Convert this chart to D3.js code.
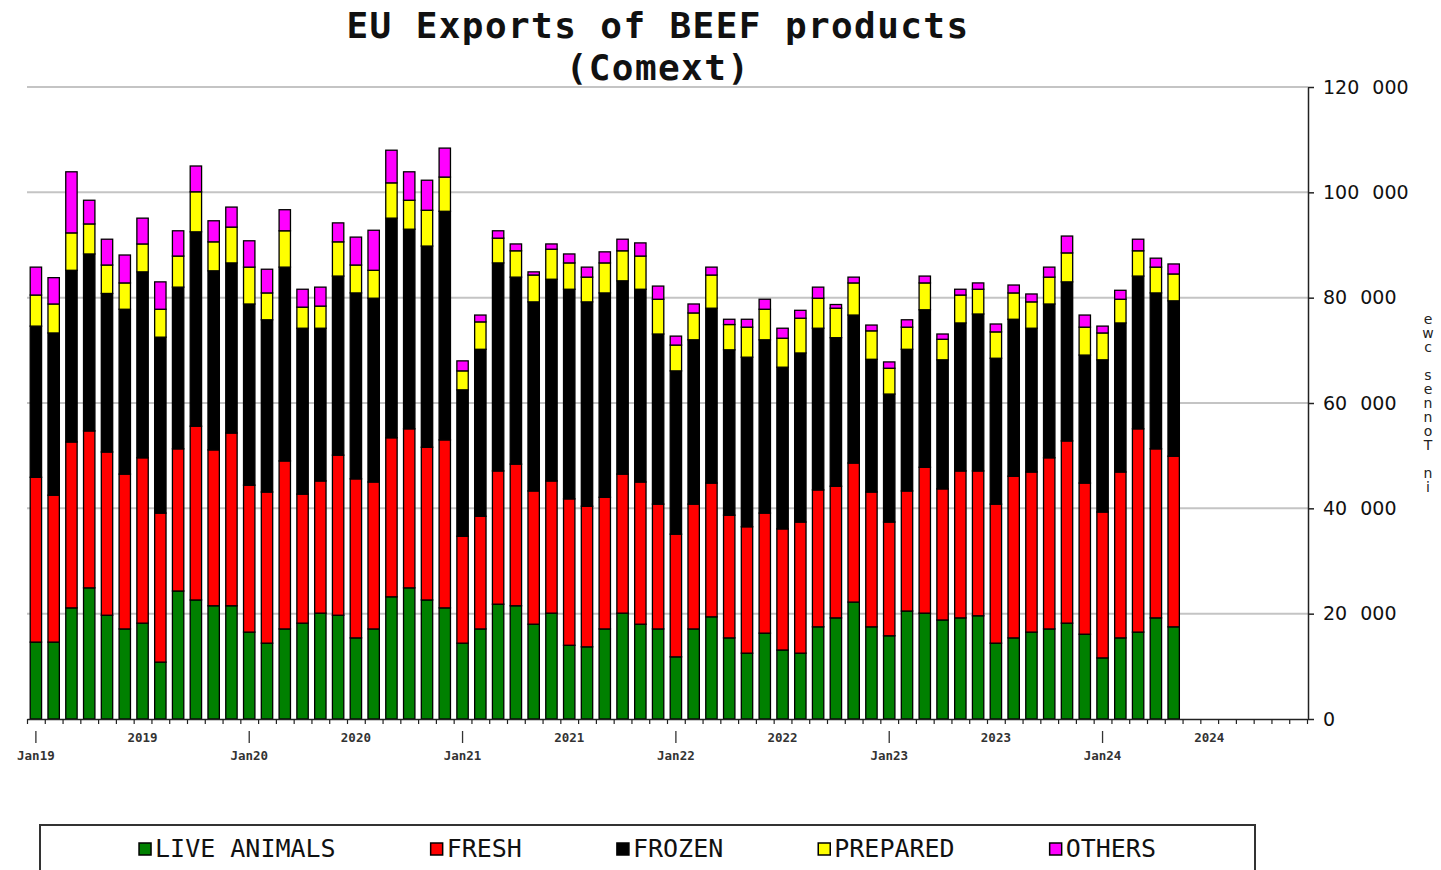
<!DOCTYPE html>
<html><head><meta charset="utf-8">
<script src="https://cdn.jsdelivr.net/npm/d3@7"></script>
<style>body{margin:0;background:#fff;} svg{display:block;}</style>
</head><body>
<svg id="chart" width="1441" height="870"></svg>
<script>
// ---------- DATA (tonnes cwe) ----------
const categories = [
 "2019-01","2019-02","2019-03","2019-04","2019-05","2019-06","2019-07","2019-08","2019-09","2019-10","2019-11","2019-12",
 "2020-01","2020-02","2020-03","2020-04","2020-05","2020-06","2020-07","2020-08","2020-09","2020-10","2020-11","2020-12",
 "2021-01","2021-02","2021-03","2021-04","2021-05","2021-06","2021-07","2021-08","2021-09","2021-10","2021-11","2021-12",
 "2022-01","2022-02","2022-03","2022-04","2022-05","2022-06","2022-07","2022-08","2022-09","2022-10","2022-11","2022-12",
 "2023-01","2023-02","2023-03","2023-04","2023-05","2023-06","2023-07","2023-08","2023-09","2023-10","2023-11","2023-12",
 "2024-01","2024-02","2024-03","2024-04","2024-05"];
const liveAnimals = [14600,14600,21100,24900,19700,17100,18200,10800,24300,22600,21500,21500,
 16500,14400,17100,18200,20100,19700,15400,17100,23200,24900,22600,21100,
 14400,17100,21800,21500,18000,20100,14000,13700,17100,20100,18000,17100,
 11800,17100,19400,15400,12500,16300,13100,12500,17500,19200,22200,17500,
 15800,20500,20100,18800,19200,19600,14400,15400,16500,17100,18200,16100,
 11600,15400,16500,19200,17500];
const fresh = [31300,27900,31500,29800,31000,29400,31400,28300,27000,33000,29600,32800,
 27900,28700,31900,24500,25100,30400,30200,27900,30200,30200,29000,31900,
 20300,21400,25300,26900,25300,25100,27800,26700,25000,26400,27000,23700,
 23300,23700,25400,23300,24000,22800,23000,24900,26000,25000,26400,25600,
 21600,22800,27700,24900,27900,27500,26400,30700,30400,32500,34600,28700,
 27700,31500,38600,32100,32400];
const frozen = [28700,30800,32600,33600,30100,31300,35300,33400,30700,36900,34000,32300,
 34400,32700,36800,31500,29000,34000,35300,34900,41700,37900,38200,43400,
 27800,31700,39500,35500,35900,38300,39800,38800,38800,36700,36600,32300,
 31000,31200,33200,31400,32200,32900,30700,32100,30700,28200,28100,25200,
 24300,26900,29900,24500,28100,29800,27700,29800,27300,29200,30200,24300,
 28900,28300,29000,29600,29500];
const prepared = [5900,5500,7100,5700,5400,5000,5300,5300,5900,7600,5500,6800,
 7000,5100,6900,4000,4200,6500,5300,5300,6700,5500,6800,6500,
 3600,5200,4700,5000,5100,5700,5000,4700,5700,5700,6300,6600,
 4900,5100,6300,4800,5700,5800,5500,6600,5700,5600,6100,5400,
 4900,4200,5100,3900,5300,4700,5000,5000,5000,5100,5500,5300,
 5100,4500,4800,4900,5100];
const others = [5300,5000,11600,4500,4900,5300,4900,5200,4800,4900,4000,3800,
 5000,4500,4000,3400,3600,3600,5300,7600,6200,5400,5700,5500,
 1900,1300,1400,1300,600,1000,1700,1900,2100,2200,2500,2500,
 1700,1700,1500,1000,1500,1900,1900,1500,2100,700,1100,1100,
 1200,1400,1300,1000,1100,1200,1500,1500,1500,1900,3200,2300,
 1300,1700,2200,1700,1900];
const seriesNames = ["LIVE ANIMALS","FRESH","FROZEN","PREPARED","OTHERS"];
const seriesColors = ["#008000","#ff0000","#000000","#ffff00","#ff00ff"];
const yTicks = [0,20000,40000,60000,80000,100000,120000];
const axisYears = ["2019","2020","2021","2022","2023","2024"];
const janLabels = ["Jan19","Jan20","Jan21","Jan22","Jan23","Jan24"];
const titleLines = ["EU Exports of BEEF products","(Comext)"];
const yAxisTitle = "in Tonnes cwe";

// ---------- BUILD ----------
(function () {
const svg = d3.select("#chart");
const axisMonths = [];
axisYears.forEach(yr => { for (let m = 1; m <= 12; m++) axisMonths.push(yr + "-" + String(m).padStart(2,"0")); });

const pLeft = 27, pRight = 1307, pTop = 87, pBottom = 719;
const x = d3.scaleBand().domain(axisMonths).range([pLeft, pRight]).paddingInner(0.36).paddingOuter(0.18);
const xi = d3.scaleLinear().domain([0, axisMonths.length]).range([pLeft, pRight]);
const y = d3.scaleLinear().domain([0, 120000]).range([pBottom, pTop]);

// gridlines
svg.append("g").selectAll("line").data(yTicks.filter(d => d > 0)).join("line")
  .attr("x1", pLeft).attr("x2", pRight + 1)
  .attr("y1", d => y(d)).attr("y2", d => y(d))
  .attr("stroke", "#c4c4c4").attr("stroke-width", 2);

// stacked bars
const rows = categories.map((c, i) => ({
  month: c,
  [seriesNames[0]]: liveAnimals[i], [seriesNames[1]]: fresh[i], [seriesNames[2]]: frozen[i],
  [seriesNames[3]]: prepared[i], [seriesNames[4]]: others[i]
}));
const stacked = d3.stack().keys(seriesNames)(rows);
const color = d3.scaleOrdinal().domain(seriesNames).range(seriesColors);
svg.append("g").selectAll("g").data(stacked).join("g")
  .attr("fill", d => color(d.key))
  .selectAll("rect").data(d => d).join("rect")
  .attr("x", d => x(d.data.month))
  .attr("width", x.bandwidth())
  .attr("y", d => y(d[1]))
  .attr("height", d => y(d[0]) - y(d[1]))
  .attr("stroke", "#000").attr("stroke-width", 1.3);

// bottom axis (month ticks)
const xAxis = svg.append("g").attr("transform", `translate(0,${pBottom})`)
  .call(d3.axisBottom(xi).tickValues(d3.range(axisMonths.length + 1)).tickSize(5).tickSizeOuter(0).tickFormat(""));
xAxis.select(".domain").attr("stroke", "#222").attr("stroke-width", 1.5);
xAxis.selectAll(".tick line").attr("stroke", "#222").attr("stroke-width", 1.2);

// Jan markers and labels
const janMonths = axisYears.map(yr => yr + "-01");
const julMonths = axisYears.map(yr => yr + "-07");
svg.append("g").selectAll("line").data(janMonths).join("line")
  .attr("x1", d => x(d) + x.bandwidth()/2).attr("x2", d => x(d) + x.bandwidth()/2)
  .attr("y1", 731).attr("y2", 743).attr("stroke", "#333").attr("stroke-width", 1.3);
svg.append("g").selectAll("text").data(janLabels).join("text")
  .attr("x", (d, i) => x(janMonths[i]) + x.bandwidth()/2).attr("y", 760)
  .attr("text-anchor", "middle")
  .style("font-family", "'DejaVu Sans Mono', monospace").style("font-size", "12.5px").style("font-weight", "bold")
  .attr("fill", "#333").text(d => d);
svg.append("g").selectAll("text").data(axisYears).join("text")
  .attr("x", (d, i) => x(julMonths[i]) + x.bandwidth()/2).attr("y", 742)
  .attr("text-anchor", "middle")
  .style("font-family", "'DejaVu Sans Mono', monospace").style("font-size", "12.5px").style("font-weight", "bold")
  .attr("fill", "#333").text(d => d);

// right axis
const yAxis = svg.append("g").attr("transform", `translate(${pRight + 1},0)`)
  .call(d3.axisRight(y).tickValues(yTicks).tickSize(6).tickSizeOuter(0).tickPadding(9)
    .tickFormat(d => d3.format(",")(d).replace(/,/g, " ")));
yAxis.select(".domain").attr("stroke", "#222").attr("stroke-width", 1.5);
yAxis.selectAll(".tick line").attr("stroke", "#222").attr("stroke-width", 1.5);
yAxis.selectAll(".tick text")
  .style("font-family", "'DejaVu Sans', sans-serif").style("font-size", "19px")
  .style("word-spacing", "7px").attr("fill", "#111");

// y axis title (characters stacked, reading bottom to top)
const yt = svg.append("text")
  .style("font-family", "'DejaVu Sans', sans-serif").style("font-size", "14px").attr("fill", "#222");
yAxisTitle.split("").forEach((ch, i) => {
  yt.append("tspan").attr("x", 1428).attr("y", 492 - i * 14).attr("text-anchor", "middle").text(ch);
});

// title
svg.append("g").selectAll("text").data(titleLines).join("text")
  .attr("x", 658).attr("y", (d, i) => 38 + i * 42)
  .attr("text-anchor", "middle")
  .style("font-family", "'DejaVu Sans Mono', monospace").style("font-size", "36px").style("font-weight", "bold")
  .style("letter-spacing", "1.4px")
  .attr("fill", "#111").text(d => d);

// legend
svg.append("rect").attr("x", 40).attr("y", 825).attr("width", 1215).attr("height", 80)
  .attr("fill", "none").attr("stroke", "#333").attr("stroke-width", 2);
const lg = svg.append("g");
let cx = 0;
seriesNames.forEach((name, i) => {
  const g = lg.append("g").attr("transform", `translate(${cx},0)`);
  g.append("rect").attr("x", 0).attr("y", 843).attr("width", 12).attr("height", 12)
    .attr("fill", seriesColors[i]).attr("stroke", "#000").attr("stroke-width", 1.5);
  const t = g.append("text").attr("x", 16).attr("y", 857)
    .style("font-family", "'DejaVu Sans Mono', monospace").style("font-size", "25px")
    .attr("fill", "#111").text(name);
  cx += 16 + t.node().getComputedTextLength() + 95;
});
const lgWidth = cx - 95;
lg.attr("transform", `translate(${647.5 - lgWidth/2},0)`);
})();
</script>
</body></html>
